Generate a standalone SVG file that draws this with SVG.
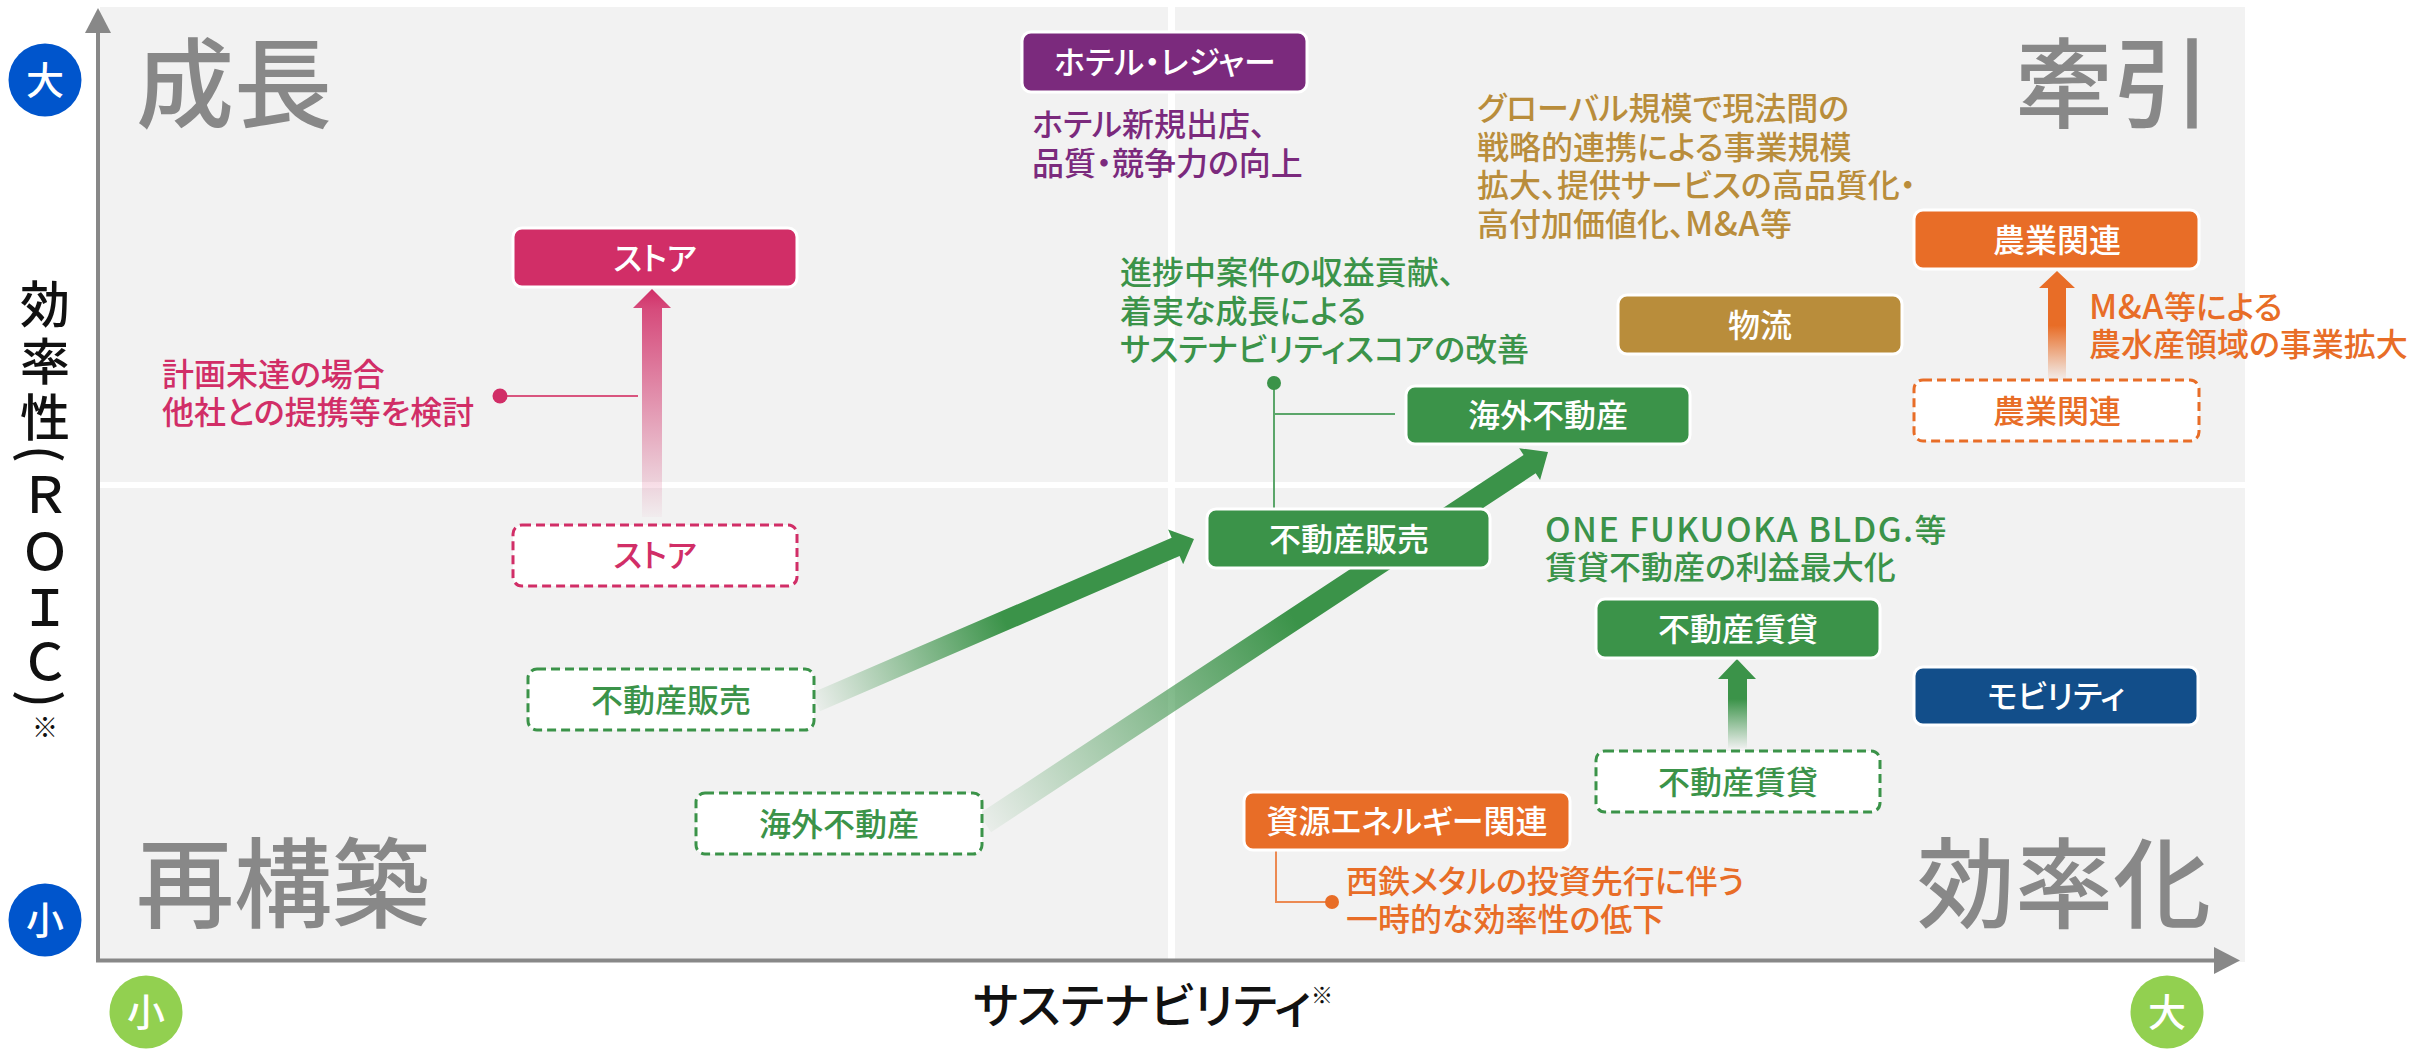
<svg xmlns="http://www.w3.org/2000/svg" width="2417" height="1049" viewBox="0 0 2417 1049">
<style>
text { font-family: "Noto Sans CJK JP", "Noto Sans", sans-serif; font-feature-settings: "palt" 1; font-weight: 500; }
.quad { font-size: 98px; fill: #888888; }
.box { stroke: #ffffff; stroke-width: 3; }
.dash { fill: #ffffff; stroke-width: 3; stroke-dasharray: 9 5; }
.lbl { font-size: 32px; text-anchor: middle; }
.ann { font-size: 32px; }
.lat { font-size: 34px; letter-spacing: 0.5px; }
.w { fill: #ffffff; }
.pink { fill: #D12E67; }
.green { fill: #3B9349; }
.orange { fill: #E86D27; }
.purple { fill: #7B2A7D; }
.gold { fill: #B98D3B; }
.navy { fill: #124E8A; }
.circ { font-size: 38px; text-anchor: middle; fill: #ffffff; }
.axis { stroke: #888888; stroke-width: 4; fill: none; }
</style>
<defs>
<linearGradient id="gPink" gradientUnits="userSpaceOnUse" x1="0" y1="289" x2="0" y2="517">
<stop offset="0" stop-color="#D12E67" stop-opacity="1"/>
<stop offset="0.09" stop-color="#D12E67" stop-opacity="0.85"/>
<stop offset="1" stop-color="#D12E67" stop-opacity="0.03"/>
</linearGradient>
<linearGradient id="gOrange" gradientUnits="userSpaceOnUse" x1="0" y1="271" x2="0" y2="380">
<stop offset="0" stop-color="#E86D27" stop-opacity="1"/>
<stop offset="0.5" stop-color="#E86D27" stop-opacity="1"/>
<stop offset="1" stop-color="#E86D27" stop-opacity="0.03"/>
</linearGradient>
<linearGradient id="gGreenV" gradientUnits="userSpaceOnUse" x1="0" y1="659" x2="0" y2="748">
<stop offset="0" stop-color="#3B9349" stop-opacity="1"/>
<stop offset="0.45" stop-color="#3B9349" stop-opacity="1"/>
<stop offset="1" stop-color="#3B9349" stop-opacity="0.03"/>
</linearGradient>
<linearGradient id="gGreen1" gradientUnits="userSpaceOnUse" x1="816" y1="702" x2="1194" y2="539">
<stop offset="0" stop-color="#3B9349" stop-opacity="0.05"/>
<stop offset="0.5" stop-color="#3B9349" stop-opacity="1"/>
<stop offset="1" stop-color="#3B9349" stop-opacity="1"/>
</linearGradient>
<linearGradient id="gGreen2" gradientUnits="userSpaceOnUse" x1="985" y1="823" x2="1548" y2="452">
<stop offset="0" stop-color="#3B9349" stop-opacity="0.05"/>
<stop offset="0.55" stop-color="#3B9349" stop-opacity="1"/>
<stop offset="1" stop-color="#3B9349" stop-opacity="1"/>
</linearGradient>
</defs>

<g id="background">
<rect x="100" y="7" width="2145" height="955" fill="#F2F2F2"/>
<rect x="1168" y="7" width="7" height="953" fill="#ffffff"/>
<rect x="100" y="482" width="2145" height="6" fill="#ffffff"/>
</g>

<g id="axes">
<line class="axis" x1="98" y1="28" x2="98" y2="962"/>
<polygon points="98,8 85,33 111,33" fill="#888888"/>
<line class="axis" x1="96" y1="960.5" x2="2218" y2="960.5"/>
<polygon points="2240,960.5 2214,947 2214,974" fill="#888888"/>
<circle cx="45" cy="80" r="36.5" fill="#0055CC"/>
<text class="circ" x="45" y="94">大</text>
<circle cx="45" cy="920" r="36.5" fill="#0055CC"/>
<text class="circ" x="45" y="934">小</text>
<circle cx="146" cy="1012" r="36.5" fill="#92D050"/>
<text class="circ" x="146" y="1026">小</text>
<circle cx="2167" cy="1012" r="36.5" fill="#92D050"/>
<text class="circ" x="2167" y="1026">大</text>
<text x="45" y="279 336 392 445 470 527 583 637 690" writing-mode="vertical-rl" style="font-feature-settings: normal" font-size="50" fill="#111111">効率性(ＲＯＩＣ)<tspan y="714" font-size="26">※</tspan></text>
<text x="973" y="1023" font-size="48" fill="#111111">サステナビリティ<tspan font-size="22" dy="-20">※</tspan></text>
</g>

<g id="quadrant-labels">
<text class="quad" x="136" y="120">成長</text>
<text class="quad" x="2211" y="120" text-anchor="end">牽引</text>
<text class="quad" x="136" y="920">再構築</text>
<text class="quad" x="2211" y="920" text-anchor="end">効率化</text>
</g>

<g id="connectors">
<path d="M652,289 L671,308 L662,308 L662,517 L642,517 L642,308 L633,308 Z" fill="url(#gPink)"/>
<path d="M2057,271 L2075,288 L2066,288 L2066,380 L2048,380 L2048,288 L2039,288 Z" fill="url(#gOrange)"/>
<path d="M1737,659 L1756,679 L1747,679 L1747,748 L1728,748 L1728,679 L1718,679 Z" fill="url(#gGreenV)"/>
<path d="M812.04,692.82 L1171.67,537.76 L1168.11,529.47 L1194,539 L1183.15,564.37 L1179.59,556.10 L819.96,711.18 Z" fill="url(#gGreen1)"/>
<path d="M978.95,813.81 L1523.58,454.92 L1519.18,448.24 L1548,452 L1540.08,479.97 L1535.68,473.29 L991.05,832.19 Z" fill="url(#gGreen2)"/>
<line x1="500" y1="396" x2="638" y2="396" stroke="#D9557F" stroke-width="2"/>
<circle cx="500" cy="396" r="7.5" fill="#D12E67"/>
<polyline points="1274,383 1274,509" fill="none" stroke="#5BA66A" stroke-width="2"/>
<polyline points="1274,414 1395,414" fill="none" stroke="#5BA66A" stroke-width="2"/>
<circle cx="1274" cy="383" r="7" fill="#3B9349"/>
<polyline points="1276,851 1276,902 1332,902" fill="none" stroke="#EC8A52" stroke-width="2"/>
<circle cx="1332" cy="902" r="7" fill="#E86D27"/>
</g>

<g id="node-store">
<rect class="box pink" x="513" y="228" width="284" height="59" rx="9"/>
<text class="lbl w" x="655" y="270">ストア</text>
</g>
<g id="node-store-current">
<rect class="dash" x="513" y="525" width="284" height="61" rx="9" stroke="#D12E67"/>
<text class="lbl pink" x="655" y="567">ストア</text>
</g>
<g id="node-realestate-sales-current">
<rect class="dash" x="528" y="669" width="286" height="61" rx="9" stroke="#3B9349"/>
<text class="lbl green" x="671" y="712">不動産販売</text>
</g>
<g id="node-overseas-current">
<rect class="dash" x="696" y="793" width="286" height="61" rx="9" stroke="#3B9349"/>
<text class="lbl green" x="839" y="836">海外不動産</text>
</g>
<g id="node-realestate-sales">
<rect class="box green" x="1207" y="509" width="283" height="59" rx="9"/>
<text class="lbl w" x="1349" y="551">不動産販売</text>
</g>
<g id="node-overseas">
<rect class="box green" x="1406" y="386" width="284" height="58" rx="9"/>
<text class="lbl w" x="1548" y="427">海外不動産</text>
</g>
<g id="node-hotel">
<rect class="box purple" x="1022" y="32" width="285" height="60" rx="9"/>
<text class="lbl w" x="1165" y="74">ホテル・レジャー</text>
</g>
<g id="node-logistics">
<rect class="box gold" x="1618" y="295" width="284" height="59" rx="9"/>
<text class="lbl w" x="1760" y="337">物流</text>
</g>
<g id="node-agri">
<rect class="box orange" x="1914" y="210" width="285" height="59" rx="9"/>
<text class="lbl w" x="2057" y="252">農業関連</text>
</g>
<g id="node-agri-current">
<rect class="dash" x="1914" y="380" width="285" height="61" rx="9" stroke="#E86D27"/>
<text class="lbl orange" x="2057" y="423">農業関連</text>
</g>
<g id="node-leasing">
<rect class="box green" x="1596" y="599" width="284" height="59" rx="9"/>
<text class="lbl w" x="1738" y="641">不動産賃貸</text>
</g>
<g id="node-leasing-current">
<rect class="dash" x="1596" y="751" width="284" height="61" rx="9" stroke="#3B9349"/>
<text class="lbl green" x="1738" y="794">不動産賃貸</text>
</g>
<g id="node-mobility">
<rect class="box navy" x="1914" y="667" width="284" height="58" rx="9"/>
<text class="lbl w" x="2056" y="708">モビリティ</text>
</g>
<g id="node-energy">
<rect class="box orange" x="1244" y="792" width="326" height="58" rx="9"/>
<text class="lbl w" x="1407" y="833">資源エネルギー関連</text>
</g>

<g id="note-store">
<text class="ann pink" x="162" y="386">計画未達の場合<tspan x="162" y="424">他社との提携等を検討</tspan></text>
</g>
<g id="note-hotel">
<text class="ann purple" x="1032" y="136">ホテル新規出店、<tspan x="1032" y="174.5">品質・競争力の向上</tspan></text>
</g>
<g id="note-logistics">
<text class="ann gold" x="1477" y="120">グローバル規模で現法間の<tspan x="1477" y="158.5">戦略的連携による事業規模</tspan><tspan x="1477" y="197">拡大、提供サービスの高品質化・</tspan><tspan x="1477" y="235.5">高付加価値化、</tspan><tspan class="lat">M&amp;A</tspan>等</text>
</g>
<g id="note-realestate">
<text class="ann green" x="1120" y="284">進捗中案件の収益貢献、<tspan x="1120" y="323">着実な成長による</tspan><tspan x="1120" y="361">サステナビリティスコアの改善</tspan></text>
</g>
<g id="note-agri">
<text class="ann orange" x="2089" y="318.5"><tspan class="lat">M&amp;A</tspan>等による<tspan x="2089" y="356">農水産領域の事業拡大</tspan></text>
</g>
<g id="note-leasing">
<text class="ann green" x="1545" y="542"><tspan font-size="34" letter-spacing="1.4">ONE FUKUOKA BLDG.</tspan>等<tspan x="1545" y="579">賃貸不動産の利益最大化</tspan></text>
</g>
<g id="note-energy">
<text class="ann orange" x="1346" y="893">西鉄メタルの投資先行に伴う<tspan x="1346" y="930.5">一時的な効率性の低下</tspan></text>
</g>
</svg>
